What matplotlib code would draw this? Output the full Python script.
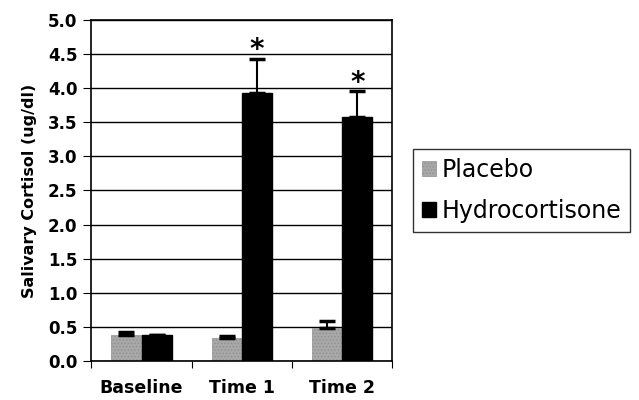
import matplotlib
matplotlib.use("Agg")
import matplotlib.pyplot as plt
import numpy as np

plt.rcParams['font.family'] = ['DejaVu Sans']
plt.rcParams['hatch.color'] = '#555555'
plt.rcParams['hatch.linewidth'] = 0.6

categories = ["Baseline", "Time 1", "Time 2"]
placebo = [0.38, 0.33, 0.48]
placebo_err = [0.04, 0.03, 0.11]
hydro = [0.38, 3.93, 3.58]
hydro_err = [0.0, 0.50, 0.37]
significant = [False, True, True]

fig = plt.figure(figsize=(6.39, 4.0), dpi=100)
ax = fig.add_axes([0.143, 0.0975, 0.471, 0.853])

x = np.arange(len(categories))
w = 0.3
ax.set_axisbelow(True)
ax.yaxis.grid(True, color='black', linewidth=1.0)
b1 = ax.bar(x - w/2, placebo, w, color='#a8a8a8', edgecolor='#909090', hatch='.....',
            linewidth=0.5, label='Placebo', zorder=2)
b2 = ax.bar(x + w/2, hydro, w, color='black', edgecolor='black', label='Hydrocortisone', zorder=2)
ax.errorbar(x - w/2, placebo, yerr=[np.zeros(3), placebo_err], fmt='none', ecolor='black',
            elinewidth=1.5, capsize=6, capthick=2.5, zorder=3)
ax.errorbar(x + w/2, hydro, yerr=[np.zeros(3), hydro_err], fmt='none', ecolor='black',
            elinewidth=1.5, capsize=6, capthick=2.5, zorder=1.5)
for xi, h, e, s in zip(x, hydro, hydro_err, significant):
    if s:
        ax.text(xi + w/2, h + e + 0.13, '*', ha='center', va='center', fontsize=20,
                fontweight='bold')

ax.set_xlim(-0.5, 2.5)
ax.set_ylim(0, 5.0)
ax.set_yticks(np.arange(0, 5.01, 0.5))
ax.set_yticklabels([f"{v:.1f}" for v in np.arange(0, 5.01, 0.5)], fontsize=12,
                   fontweight='semibold')
ax.set_xticks([-0.5, 0.5, 1.5, 2.5])
ax.set_xticklabels([])
ax.set_xticks(x, minor=True)
ax.set_xticklabels(categories, minor=True, fontsize=12.5, fontweight='semibold')
ax.tick_params(axis='x', which='minor', length=0, pad=13)
ax.tick_params(axis='x', which='major', direction='out', length=5)
ax.tick_params(axis='y', direction='out', length=6, pad=4)
for sp in ax.spines.values():
    sp.set_linewidth(1.2)
ax.set_ylabel('Salivary Cortisol (ug/dl)', fontsize=11.5, fontweight='bold', labelpad=8)

leg = fig.legend(handles=[b1, b2], loc='upper left', bbox_to_anchor=(0.646, 0.628),
                 fontsize=17, frameon=True, fancybox=False, edgecolor='black',
                 handlelength=0.6, handleheight=0.6, handletextpad=0.2, borderpad=0.4,
                 borderaxespad=0, labelspacing=0.7)
leg.get_frame().set_linewidth(1.0)

fig.savefig("out.png", dpi=100)
